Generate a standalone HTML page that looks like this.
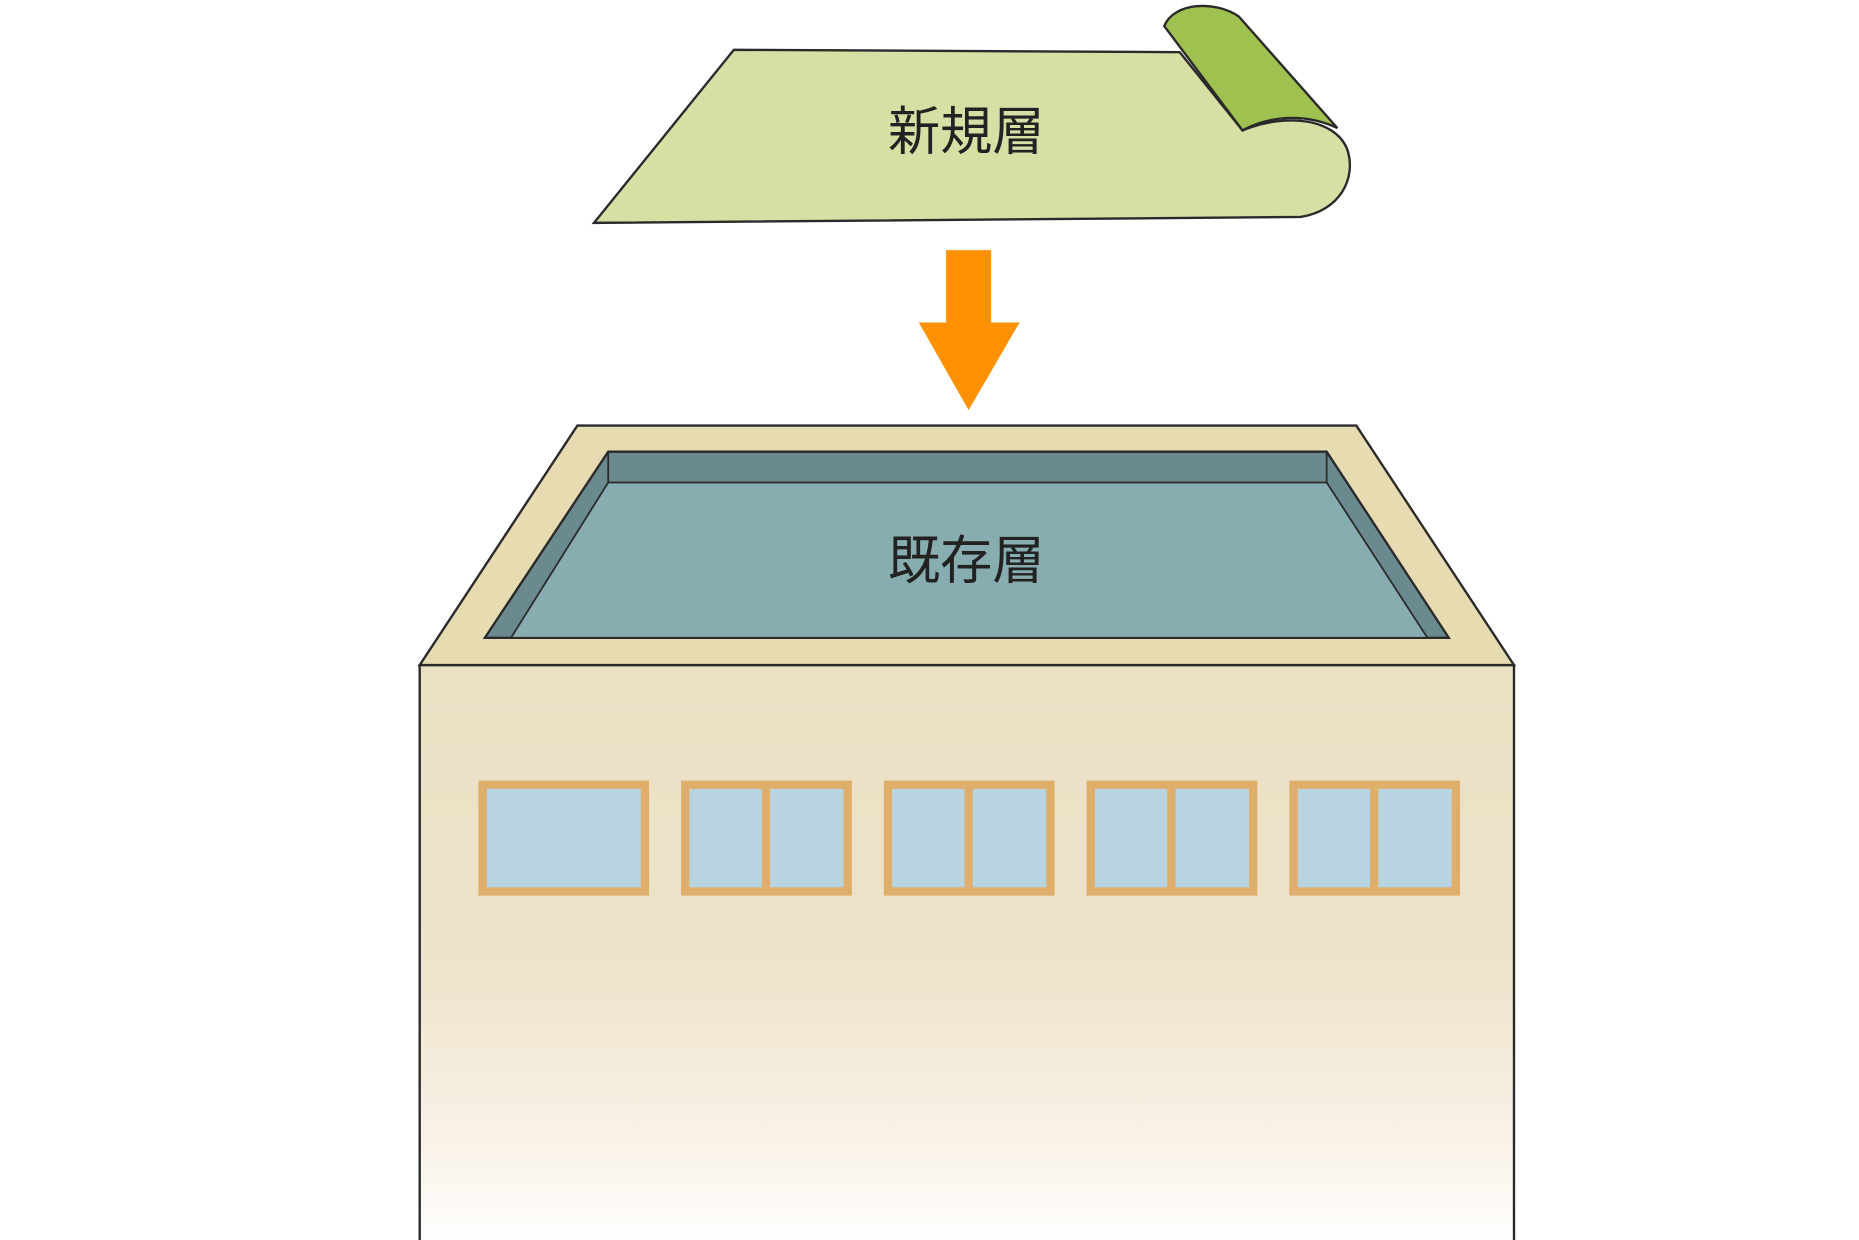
<!DOCTYPE html>
<html><head><meta charset="utf-8"><style>html,body{margin:0;padding:0;background:#fff}svg{display:block}</style></head>
<body>
<svg width="1859" height="1240" viewBox="0 0 1568 1046" preserveAspectRatio="none" xmlns="http://www.w3.org/2000/svg">
<defs>
<linearGradient id="bg" x1="0" y1="0" x2="0" y2="1">
<stop offset="0" stop-color="#ebe0c4"/>
<stop offset="0.5" stop-color="#ede3c9"/>
<stop offset="0.8" stop-color="#f8f1e5"/>
<stop offset="1" stop-color="#ffffff"/>
</linearGradient>
</defs>
<!-- green sheet -->
<path d="M619,42 L995,44 L1048,110 C1085,95 1125,100 1136,125 C1145,150 1130,178 1097,183 L501,188 Z" fill="#d8dfa5" stroke="#2a2a2a" stroke-width="2"/>
<path d="M982,22 C990,2 1025,0 1045,14 L1128,108 C1100,95 1070,98 1048,110 Z" fill="#9ec150" stroke="#2a2a2a" stroke-width="2"/>
<text x="815" y="126" font-family="'Liberation Sans','Noto Sans CJK JP',sans-serif" font-size="44" text-anchor="middle" fill="#222">新規層</text>
<!-- arrow -->
<path d="M798,211 L836,211 L836,272 L860,272 L817,346 L775,272 L798,272 Z" fill="#ff9100"/>
<!-- building body -->
<rect x="354" y="561" width="923" height="490" fill="url(#bg)" stroke="#2a2a2a" stroke-width="2"/>
<!-- roof -->
<path d="M487,359 L1144,359 L1277,561 L354,561 Z" fill="#e6dbb1" stroke="#2a2a2a" stroke-width="2"/>
<path d="M513,381 L1119,381 L1222,538 L409,538 Z" fill="#6a8a90" stroke="#2a2a2a" stroke-width="2"/>
<path d="M513,407 L1119,407 L1204,538 L431,538 Z" fill="#87adb0" stroke="#2a2a2a" stroke-width="1.5"/>
<line x1="513" y1="381" x2="513" y2="407" stroke="#2a2a2a" stroke-width="1.5"/>
<line x1="1119" y1="381" x2="1119" y2="407" stroke="#2a2a2a" stroke-width="1.5"/>
<text x="815" y="488" font-family="'Liberation Sans','Noto Sans CJK JP',sans-serif" font-size="44" text-anchor="middle" fill="#222">既存層</text>
<!-- windows -->
<g fill="#b8d4e0" stroke="#dfae6a" stroke-width="7">
<rect x="407" y="662" width="137" height="90"/>
<rect x="578" y="662" width="137" height="90"/>
<rect x="749" y="662" width="137" height="90"/>
<rect x="920" y="662" width="137" height="90"/>
<rect x="1091" y="662" width="137" height="90"/>
</g>
<g stroke="#dfae6a" stroke-width="7">
<line x1="646" y1="662" x2="646" y2="752"/>
<line x1="817" y1="662" x2="817" y2="752"/>
<line x1="988" y1="662" x2="988" y2="752"/>
<line x1="1159" y1="662" x2="1159" y2="752"/>
</g>
</svg>
</body></html>
